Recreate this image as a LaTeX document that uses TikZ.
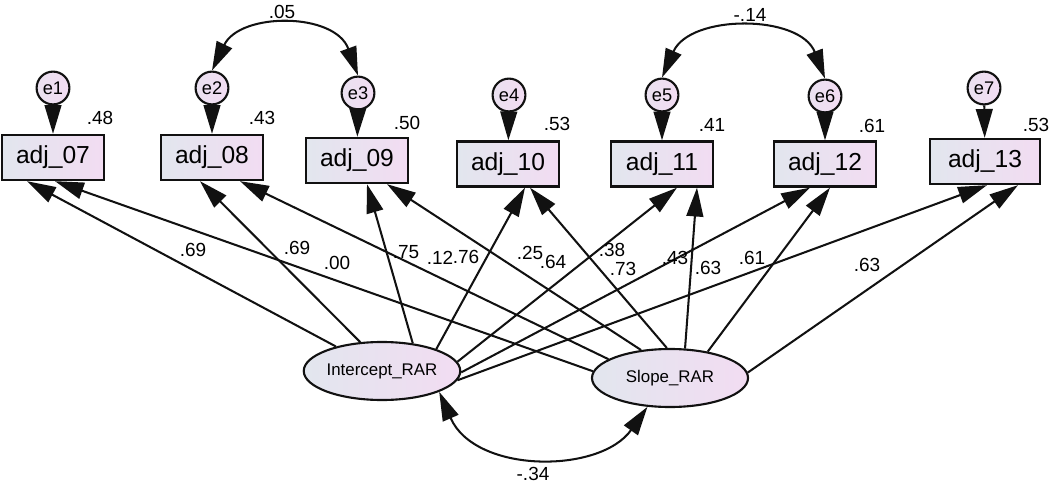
\documentclass[tikz,border=0pt]{standalone}
\usepackage{fontspec}
\setmainfont{Liberation Sans}
\usetikzlibrary{arrows.meta,shapes.geometric,calc}
\definecolor{gL}{HTML}{E2E6EE}
\definecolor{gR}{HTML}{F2DCF2}
\definecolor{ln}{HTML}{111111}
\begin{document}
\begin{tikzpicture}[x=0.025cm,y=-0.025cm,
 obs/.style={draw=ln,line width=1.8pt,left color=gL,right color=gR,minimum width=2.55cm,minimum height=1.12cm,inner sep=0pt,font=\fontsize{17.5}{17.5}\selectfont},
 err/.style={circle,draw=ln,line width=1.5pt,left color=gL!50!gR,right color=gR,minimum size=0.82cm,inner sep=0pt,font=\fontsize{13}{13}\selectfont},
 lat/.style={ellipse,draw=ln,line width=1.5pt,left color=gL,right color=gR,minimum width=3.9cm,minimum height=1.45cm,inner sep=0pt,font=\fontsize{12}{12}\selectfont},
 lbl/.style={font=\fontsize{13.5}{14}\selectfont,inner sep=0pt},
 load/.style={line width=1.45pt,draw=ln,-{Triangle[length=0.72cm,width=0.42cm]}},
 cov/.style={line width=1.45pt,draw=ln,{Triangle[length=0.72cm,width=0.42cm]}-{Triangle[length=0.72cm,width=0.42cm]}}
]
\useasboundingbox (0,0) rectangle (1050,485);
% observed
\node[obs] (b07) at (53,157.5) {adj\_07};
\node[obs] (b08) at (212,157.5) {adj\_08};
\node[obs] (b09) at (357,160.5) {adj\_09};
\node[obs] (b10) at (508,164) {adj\_10};
\node[obs] (b11) at (662,164) {adj\_11};
\node[obs] (b12) at (825,164) {adj\_12};
\node[obs,minimum width=2.75cm] (b13) at (985,161.5) {adj\_13};
% errors
\node[err] (e1) at (53,88) {e1};
\node[err] (e2) at (212,88) {e2};
\node[err] (e3) at (358,93) {e3};
\node[err] (e4) at (509,95) {e4};
\node[err] (e5) at (662,95) {e5};
\node[err] (e6) at (825,96) {e6};
\node[err] (e7) at (984,88) {e7};
\foreach \e/\b in {e1/b07,e2/b08,e3/b09,e4/b10,e5/b11,e6/b12,e7/b13}
  \draw[load] (\e) -- (\b);
% latent
\node[lat] (I) at (382,371) {Intercept\_RAR};
\node[lat] (S) at (670,378) {Slope\_RAR};
% intercept loadings
\draw[load] (I.152) -- ($(b07.south)+(-26,0)$);
\draw[load] (I.127) -- ($(b08.south)+(-12,0)$);
\draw[load] (I.42) -- ($(b09.south)+(10,0)$);
\draw[load] (I.22) -- ($(b10.south)+(17,0)$);
\draw[load] (I.7) -- ($(b11.south)+(15,0)$);
\draw[load] (I.-1) -- ($(b12.south)+(-15,0)$);
\draw[load] (I.-7) -- ($(b13.south)+(2,0)$);
% slope loadings
\draw[load] (S.175) -- ($(b07.south)+(2,0)$);
\draw[load] (S.163) -- ($(b08.south)+(28,0)$);
\draw[load] (S.136) -- ($(b09.south)+(30,0)$);
\draw[load] (S.96) -- ($(b10.south)+(22,0)$);
\draw[load] (S.63) -- ($(b11.south)+(35,0)$);
\draw[load] (S.35) -- ($(b12.south)+(5,0)$);
\draw[load] (S.4) -- ($(b13.south)+(33,0)$);
% covariances
\draw[cov] (e2.north) .. controls (240,12) and (335,12) .. (e3.north);
\draw[cov] (e5.north) .. controls (690,14) and (800,14) .. (e6.north);
\draw[cov] (I.-20) .. controls (475,474) and (600,474) .. (S.232);
% covariance labels
\node[lbl] (c1) at (282,12) {.05};
\node[lbl] (c2) at (750,15) {-.14};
\node[lbl] (c3) at (533,474) {-.34};
% R squared
\node[lbl] (r1) at (100,118) {.48};
\node[lbl] (r2) at (262,118) {.43};
\node[lbl] (r3) at (407,123) {.50};
\node[lbl] (r4) at (557,124) {.53};
\node[lbl] (r5) at (712,125) {.41};
\node[lbl] (r6) at (872,126) {.61};
\node[lbl] (r7) at (1036,125) {.53};
% loading labels
\node[lbl] (w1) at (193,250) {.69};
\node[lbl] (w2) at (297,248) {.69};
\node[lbl] (w3) at (337,263) {.00};
\node[lbl] (w4) at (406,252) {.75};
\node[lbl] (w5) at (440,258) {.12};
\node[lbl] (w6) at (466,257) {.76};
\node[lbl] (w7) at (530,253) {.25};
\node[lbl] (w8) at (553,262) {.64};
\node[lbl] (w9) at (612,250) {.38};
\node[lbl] (w10) at (623,269) {.73};
\node[lbl] (w11) at (675,258) {.43};
\node[lbl] (w12) at (708,268) {.63};
\node[lbl] (w13) at (752,258) {.61};
\node[lbl] (w14) at (867,265) {.63};
\end{tikzpicture}
\end{document}
